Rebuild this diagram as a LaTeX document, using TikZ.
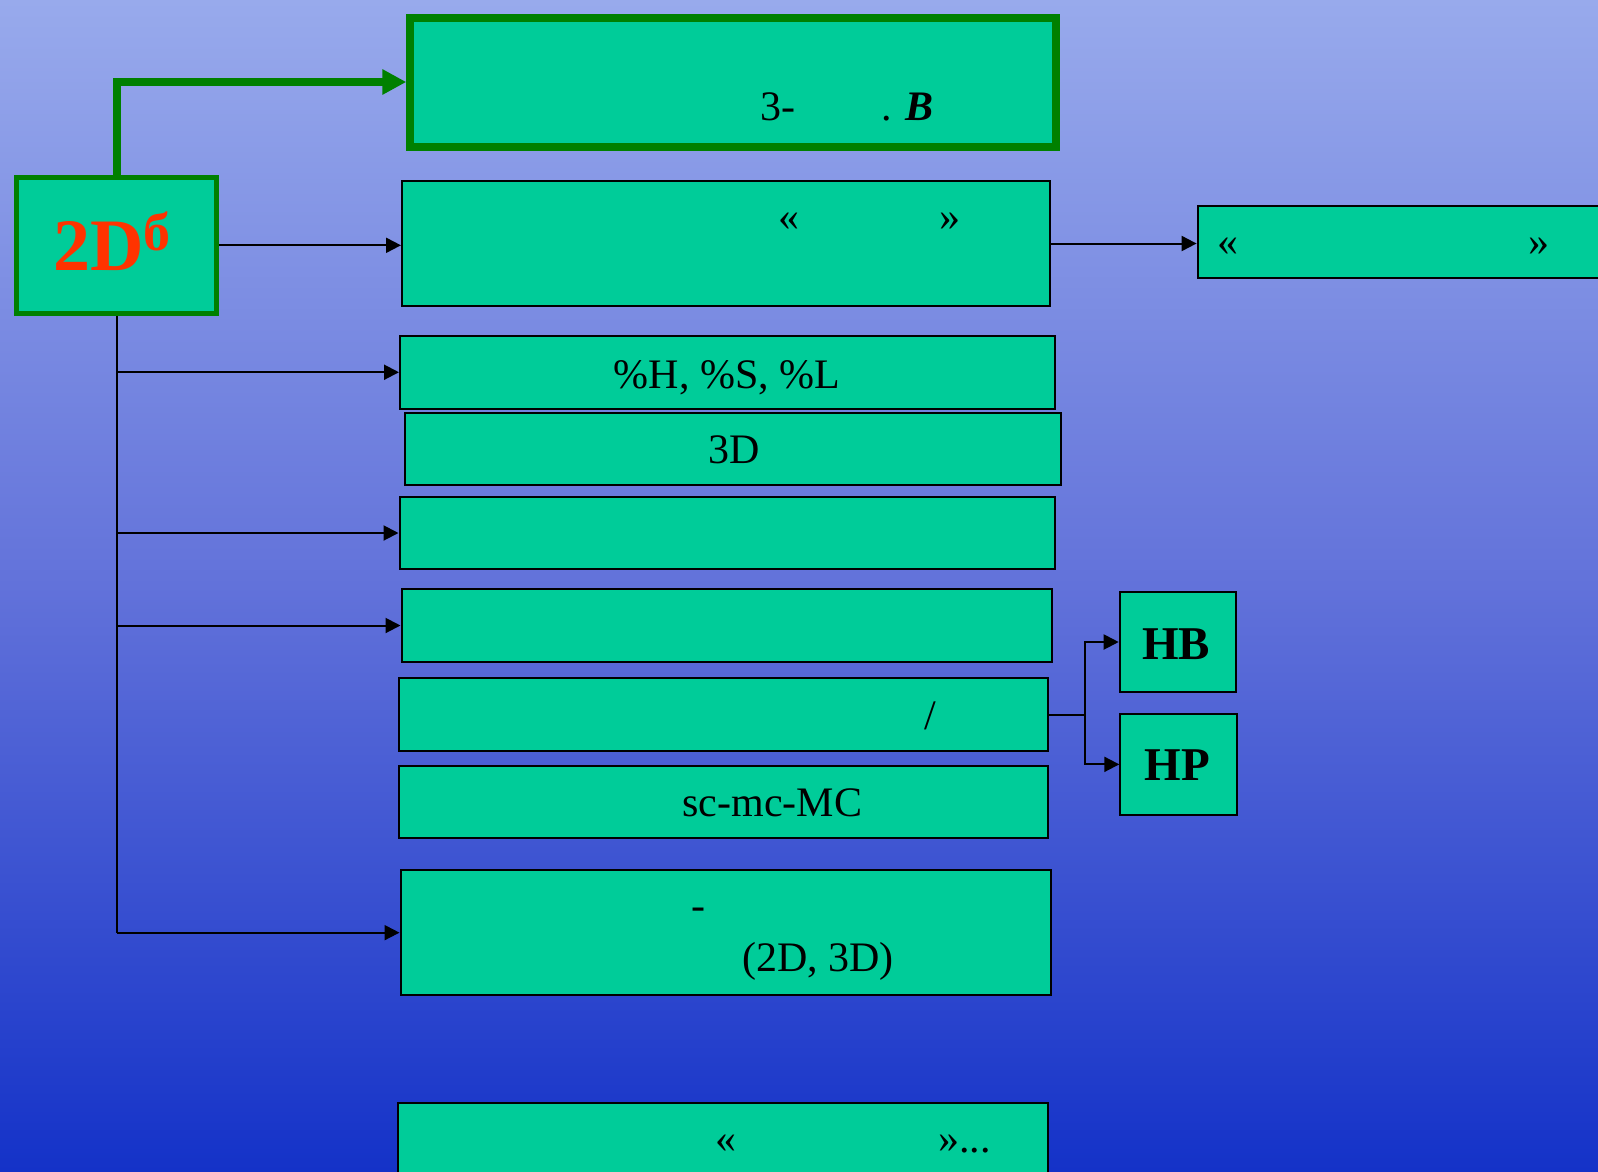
\documentclass[tikz,border=0pt]{standalone}
\usepackage{fontspec}
\setmainfont{Liberation Serif}
\usepackage{xcolor}
\usepackage{tikz}
\usetikzlibrary{arrows.meta}

\definecolor{boxfill}{RGB}{0,204,153}
\definecolor{darkgreen}{RGB}{0,128,0}
\definecolor{titlered}{RGB}{255,51,0}
\definecolor{bgtop}{RGB}{152,170,236}
\definecolor{bgmid}{RGB}{98,114,218}
\definecolor{bgbot}{RGB}{20,50,200}

\newcommand\boxfont{\fontsize{42}{50}\selectfont}

\begin{document}
\begin{tikzpicture}[x=1pt, y=-1pt,
        box/.style={draw=black, line width=2pt, fill=boxfill, anchor=north west, inner sep=0pt},
        gbox/.style={box, draw=darkgreen},
        arr/.style={-{Triangle[length=15pt,width=15pt]}, line width=2pt},
        txt/.style={font=\boxfont, inner sep=0pt},
        bigtxt/.style={font=\fontsize{47}{52}\selectfont\bfseries, inner sep=0pt, anchor=base}]

        \shade[top color=bgtop, bottom color=bgbot, middle color=bgmid] (0,0) rectangle (1598,1171);
        \useasboundingbox (0,0) rectangle (1598,1171);

        % boxes
        \node[gbox, line width=8pt, minimum width=645.4pt, minimum height=129pt] (res) at (406.3,13.5) {};
        \node[gbox, line width=5pt, minimum width=200pt, minimum height=136pt] (twoD) at (14.2,174.8) {};
        \node[box, minimum width=648pt, minimum height=125pt] (gen) at (401,180) {};
        \node[box, minimum width=420pt, minimum height=72.6pt] (ext) at (1196.6,204.7) {};
        \node[box, minimum width=655pt, minimum height=72.5pt] (hsl) at (399,335) {};
        \node[box, minimum width=656pt, minimum height=72.6pt] (thr) at (403.5,411.7) {};
        \node[box, minimum width=655.5pt, minimum height=72.6pt] (fit) at (398.5,495.7) {};
        \node[box, minimum width=650pt, minimum height=72.4pt] (cls) at (400.5,588.3) {};
        \node[box, minimum width=648.7pt, minimum height=72.7pt] (sel) at (398,677.3) {};
        \node[box, minimum width=648.7pt, minimum height=71.7pt] (mc) at (398,765) {};
        \node[box, minimum width=650.5pt, minimum height=124.7pt] (viz) at (399.5,869.3) {};
        \node[box, minimum width=650.5pt, minimum height=120pt] (more) at (396.5,1102.3) {};
        \node[box, minimum width=116pt, minimum height=100.6pt] (hb) at (1118.7,590.7) {};
        \node[box, minimum width=116.7pt, minimum height=101.3pt] (hp) at (1119.3,712.7) {};

        % texts
        \node[font=\fontsize{74}{80}\selectfont\bfseries, text=titlered, inner sep=0pt, anchor=base west]
            (twoDtxt) at (53,270) {2D\raisebox{20pt}{\fontsize{54}{54}\selectfont б}};
        \node[txt, anchor=base west] (resa) at (760,120) {3-};
        \node[txt, anchor=base west] (resb) at (881,120) {. \textbf{\textit{B}}};
        \node[txt, anchor=base] (genl) at (789,230) {«};
        \node[txt, anchor=base] (genr) at (949.5,230) {»};
        \node[txt, anchor=base] (extl) at (1228,255) {«};
        \node[txt, anchor=base] (extr) at (1538.5,255) {»};
        \node[txt, anchor=base] (hsltxt) at (727,388) {\%H, \%S, \%L};
        \node[txt, anchor=base] (thrtxt) at (733.7,463.3) {3D};
        \node[txt, anchor=base] (seltxt) at (930,729) {/};
        \node[txt, anchor=base] (mctxt) at (772.3,816.7) {sc-mc-MC};
        \node[txt, anchor=base] (vizdash) at (698,919.5) {-};
        \node[txt, anchor=base west] (viztxt) at (742,971.7) {(2D, 3D)};
        \node[txt, anchor=base] (morel) at (726,1152.7) {«};
        \node[txt, anchor=base west] (morer) at (938,1152.7) {»...};
        \node[bigtxt] (hbtxt) at (1176,659.3) {HB};
        \node[bigtxt] (hptxt) at (1177.5,780) {HP};

        % connectors
        \draw[-{Triangle[length=24pt,width=24pt]}, darkgreen, line width=7.7pt] (twoD.north) |- (res.west);
        \draw[arr] (twoD.east) -- (twoD.east -| gen.west);
        \draw[arr] (gen.east) -- (gen.east -| ext.west);
        \draw[line width=2pt] (twoD.south) -- (twoD.south |- viz.west);
        \foreach \b in {hsl, fit, cls, viz}
            \draw[arr] (twoD.south |- \b.west) -- (\b.west);
        \draw[line width=2pt] (sel.east) -- ++(36,0) coordinate (fork);
        \draw[arr] (fork) |- (hb.west);
        \draw[arr] (fork) |- (hp.west);
\end{tikzpicture}
\end{document}
